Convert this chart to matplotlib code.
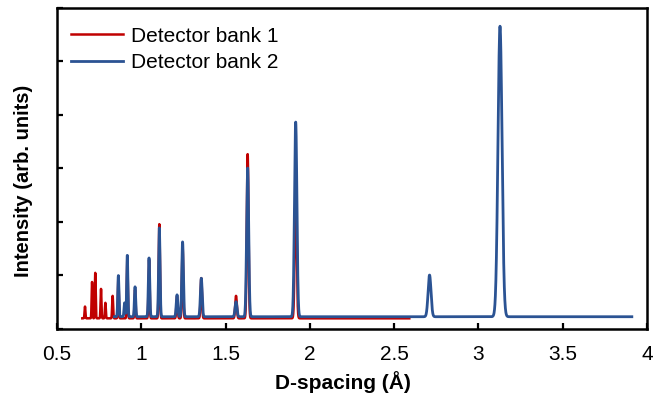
import matplotlib.pyplot as plt
import numpy as np

plt.rcParams['font.family'] = ['Liberation Sans', 'DejaVu Sans']

# Detector bank 1 (red): d-range, flat background, fitted peaks
bank1_range = (0.65, 2.59)
bank1_background = 0.19
bank1_d = [0.666, 0.708, 0.727, 0.761, 0.787, 0.830, 0.864, 0.917, 0.963,
           1.046, 1.107, 1.212, 1.245, 1.356, 1.562, 1.631, 1.916]
bank1_height = [0.41, 0.87, 1.04, 0.74, 0.48, 0.61, 0.95, 1.30, 0.72,
                1.28, 1.95, 0.60, 1.55, 0.94, 0.61, 3.26, 2.60]
bank1_sigma = [0.0025, 0.0025, 0.0025, 0.0026, 0.0026, 0.0028, 0.0028, 0.0030, 0.0031,
               0.0033, 0.0035, 0.0038, 0.0039, 0.0042, 0.0048, 0.0050, 0.0057]

# Detector bank 2 (blue)
bank2_range = (0.84, 3.91)
bank2_background = 0.22
bank2_d = [0.864, 0.901, 0.917, 0.963, 1.046, 1.107, 1.212, 1.245, 1.356,
           1.562, 1.631, 1.916, 2.710, 3.128]
bank2_height = [0.99, 0.48, 1.37, 0.78, 1.32, 1.88, 0.63, 1.62, 0.94,
                0.50, 3.00, 3.86, 1.00, 5.65]
bank2_sigma = [0.0034, 0.0034, 0.0034, 0.0037, 0.0040, 0.0042, 0.0046, 0.0047, 0.0052,
               0.0057, 0.0061, 0.0071, 0.0086, 0.0120]

x_ticks = [0.5, 1, 1.5, 2, 2.5, 3, 3.5, 4]
x_tick_labels = ['0.5', '1', '1.5', '2', '2.5', '3', '3.5', '4']


def pattern(d_range, background, centres, heights, sigmas, n=6000):
    d = np.linspace(d_range[0], d_range[1], n)
    y = np.full_like(d, background)
    for c, h, s in zip(centres, heights, sigmas):
        y += (h - background) * np.exp(-0.5 * ((d - c) / s) ** 2)
    return d, y


fig = plt.figure(figsize=(6.57, 3.96), dpi=100)
ax = fig.add_axes([57 / 657, 1 - 328.5 / 396, 590 / 657, 321 / 396])

d1, y1 = pattern(bank1_range, bank1_background, bank1_d, bank1_height, bank1_sigma)
d2, y2 = pattern(bank2_range, bank2_background, bank2_d, bank2_height, bank2_sigma)
ax.plot(d1, y1, color='#C00000', lw=1.8, label='Detector bank 1')
ax.plot(d2, y2, color='#2B5393', lw=2.0, label='Detector bank 2')

ax.set_xlim(0.5, 4)
ax.set_ylim(0, 6)
ax.set_xticks(x_ticks)
ax.set_xticklabels(x_tick_labels)
ax.set_yticks(range(7))
ax.set_yticklabels([])
ax.tick_params(direction='in', length=4.5, width=1.6, labelsize=15, pad=12)
for sp in ax.spines.values():
    sp.set_linewidth(1.8)

fig.text(343 / 657, 1 - 382 / 396, 'D-spacing (Å)', ha='center', va='center',
         fontsize=15, fontweight='bold')
fig.text(24 / 657, 1 - 181 / 396, 'Intensity (arb. units)', ha='center', va='center',
         rotation=90, fontsize=14.5, fontweight='bold')

ax.legend(loc='upper left', bbox_to_anchor=(0.024, 0.94), frameon=False,
          fontsize=15, handlelength=2.5, handletextpad=0.35, labelspacing=0.35,
          borderaxespad=0, borderpad=0)

fig.savefig('out.png', dpi=100)
